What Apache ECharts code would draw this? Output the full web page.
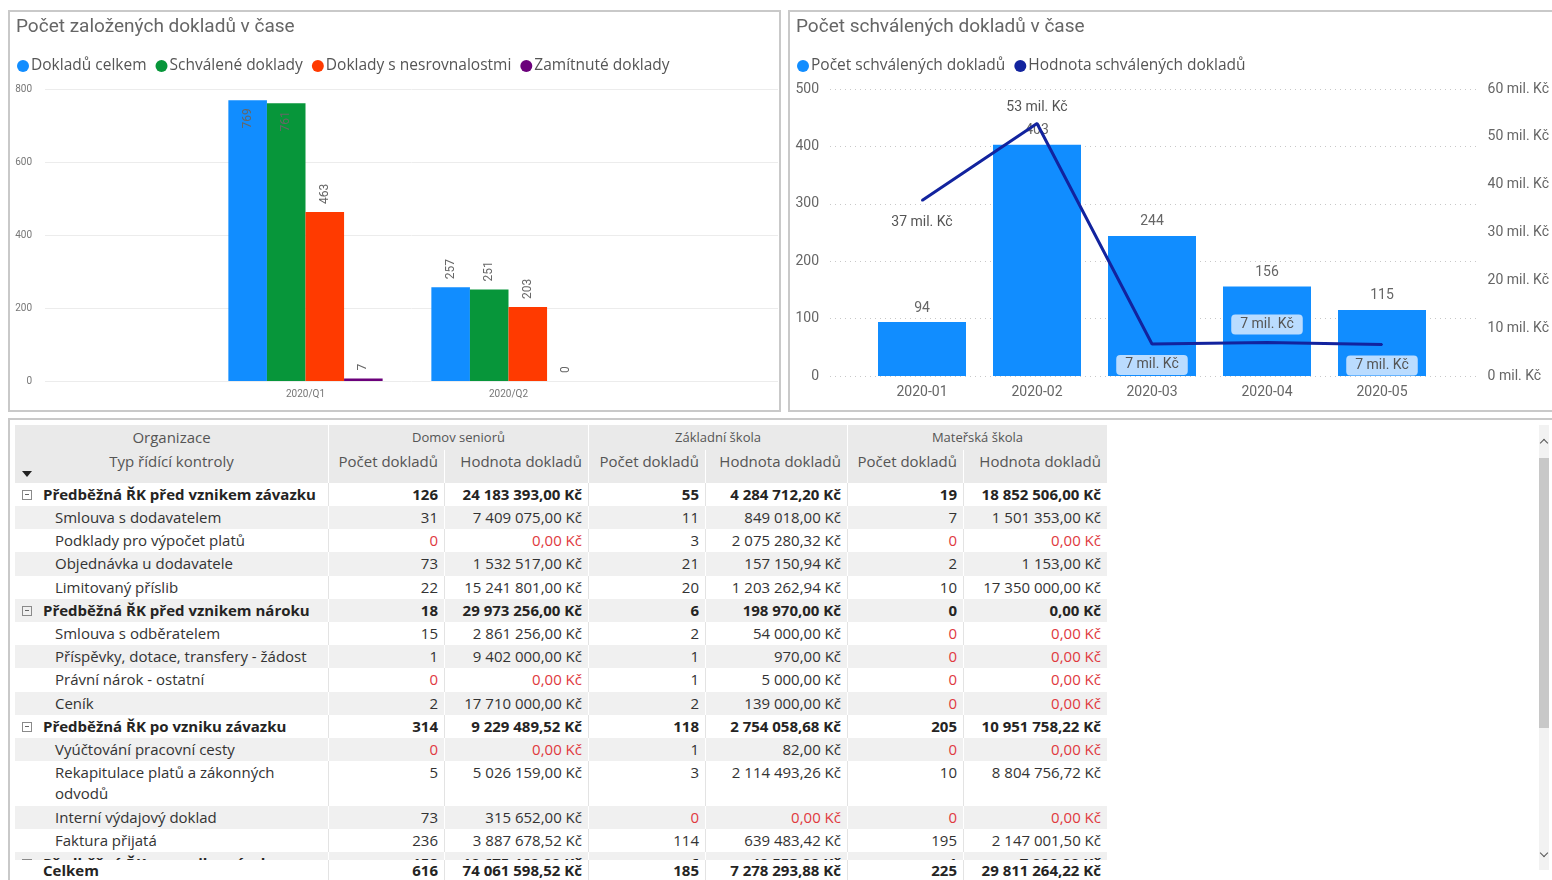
<!DOCTYPE html>
<html><head><meta charset="utf-8">
<script src="https://cdn.jsdelivr.net/npm/echarts@6/dist/echarts.min.js"></script>
<style>
html,body{margin:0;padding:0;background:#fff;width:1552px;height:880px;overflow:hidden;font-family:'Open Sans','Segoe UI',Roboto,sans-serif;}
.panel{position:absolute;border:2px solid #c9c9c9;box-sizing:border-box;}
#chart{position:absolute;left:0;top:0;width:1552px;height:416px;}
.row{position:absolute;left:0;display:flex;width:1092px;}
.cell{box-sizing:border-box;overflow:hidden;white-space:nowrap;font-size:15px;color:#333;}
.num{text-align:right;padding-right:6px;}
.red{color:#e0393e;}
.hdr{background:#eaeaea;}
.grp .cell{font-weight:bold;color:#252423;}
.box{position:absolute;left:7px;width:8px;height:8px;border:1px solid #8a8a8a;}
.box:after{content:'';position:absolute;left:2px;top:3.5px;width:4px;height:1px;background:#666;}
</style></head>
<body>
<div class="panel" style="left:8px;top:10px;width:773px;height:402px;"></div>
<div class="panel" style="left:788px;top:10px;width:780px;height:402px;"></div>
<div class="panel" style="left:8px;top:418px;width:1560px;height:480px;"></div>
<div id="chart"></div>
<div id="table" style="position:absolute;left:15px;top:425px;width:1092px;height:455px;"></div>
<div style="position:absolute;left:1539px;top:425px;width:10px;height:445px;background:#f2f2f2;"></div>
<div style="position:absolute;left:1539px;top:458px;width:10px;height:270px;background:#c8c8c8;"></div>
<div style="position:absolute;left:1541px;top:440px;width:5px;height:5px;border-left:1.5px solid #555;border-top:1.5px solid #555;transform:rotate(45deg);"></div>
<div style="position:absolute;left:1541px;top:850px;width:5px;height:5px;border-right:1.5px solid #555;border-bottom:1.5px solid #555;transform:rotate(45deg);"></div>
<script>
// ---------- chart data ----------
const quarters = ['2020/Q1', '2020/Q2'];
const dokladuCelkem = [769, 257];
const schvaleneDoklady = [761, 251];
const dokladySNesrovnalostmi = [463, 203];
const zamitnuteDoklady = [7, 0];
const leftTicks = [0, 200, 400, 600, 800];

const months = ['2020-01', '2020-02', '2020-03', '2020-04', '2020-05'];
const pocetSchvalenych = [94, 403, 244, 156, 115];
const hodnotaSchvalenych = [36700000, 52800000, 6700000, 7000000, 6600000];
const countTicks = [0, 100, 200, 300, 400, 500];
const valueTicks = [0, 10000000, 20000000, 30000000, 40000000, 50000000, 60000000];

// ---------- table data ----------
const organizace = ['Domov seniorů', 'Základní škola', 'Mateřská škola'];
const rowNames = [
  'Předběžná ŘK před vznikem závazku',
  'Smlouva s dodavatelem',
  'Podklady pro výpočet platů',
  'Objednávka u dodavatele',
  'Limitovaný příslib',
  'Předběžná ŘK před vznikem nároku',
  'Smlouva s odběratelem',
  'Příspěvky, dotace, transfery - žádost',
  'Právní nárok - ostatní',
  'Ceník',
  'Předběžná ŘK po vzniku závazku',
  'Vyúčtování pracovní cesty',
  'Rekapitulace platů a zákonných\nodvodů',
  'Interní výdajový doklad',
  'Faktura přijatá',
  'Předběžná ŘK po vzniku nároku'
];
const rowIsGroup = [1,0,0,0,0,1,0,0,0,0,1,0,0,0,0,1];
const domovCount = [126,31,0,73,22,18,15,1,0,2,314,0,5,73,236,158];
const domovValue = [24183393.00,7409075.00,0,1532517.00,15241801.00,29973256.00,2861256.00,9402000.00,0,17710000.00,9229489.52,0,5026159.00,315652.00,3887678.52,10675460.00];
const zsCount = [55,11,3,21,20,6,2,1,1,2,118,1,3,0,114,6];
const zsValue = [4284712.20,849018.00,2075280.32,157150.94,1203262.94,198970.00,54000.00,970.00,5000.00,139000.00,2754058.68,82.00,2114493.26,0,639483.42,40553.00];
const msCount = [19,7,0,2,10,0,0,0,0,0,205,0,10,0,195,1];
const msValue = [18852506.00,1501353.00,0,1153.00,17350000.00,0,0,0,0,0,10951758.22,0,8804756.72,0,2147001.50,7000.00];
const totalCount = [616, 185, 225];
const totalValue = [74061598.52, 7278293.88, 29811264.22];

// ---------- chart ----------
const FONT = "Roboto, 'Segoe UI', sans-serif";
const LFONT = "'Open Sans', 'Segoe UI', sans-serif";
const chart = echarts.init(document.getElementById('chart'));
const mil = v => Math.round(v / 1e6) + ' mil. Kč';

function rotLabels(arr) {
  return arr.map(v => ({
    value: v,
    label: v > 700
      ? {position: 'insideTop', align: 'right'}
      : {position: 'top', align: 'left'}
  }));
}
const rotLabel = {show: true, rotate: 90, verticalAlign: 'middle', distance: 8, fontSize: 12, color: '#666'};
const barCommon = {type: 'bar', xAxisIndex: 1, yAxisIndex: 1, barGap: '0%', barCategoryGap: '24%', label: rotLabel};

const linePos = ['bottom', 'top', 'bottom', 'top', 'bottom'];
const lineBox = [false, false, true, true, true];
const lineDist = [14, 8, 10, 7, 10];

const option = {
  backgroundColor: 'transparent',
  animation: false,
  textStyle: {fontFamily: FONT},
  title: [
    {text: 'Počet založených dokladů v čase', left: 11, top: 13, textStyle: {fontSize: 19, fontWeight: 'normal', color: '#666', fontFamily: FONT}},
    {text: 'Počet schválených dokladů v čase', left: 791, top: 13, textStyle: {fontSize: 19, fontWeight: 'normal', color: '#666', fontFamily: FONT}}
  ],
  legend: [
    {left: 12, top: 53, icon: 'circle', itemWidth: 12, itemHeight: 12, itemGap: 9,
     data: ['Dokladů celkem', 'Schválené doklady', 'Doklady s nesrovnalostmi', 'Zamítnuté doklady'],
     textStyle: {fontSize: 15.5, color: '#555', fontFamily: LFONT, padding: [0, 0, 0, -3]}},
    {left: 792, top: 53, icon: 'circle', itemWidth: 12, itemHeight: 12, itemGap: 9,
     data: ['Počet schválených dokladů', 'Hodnota schválených dokladů'],
     textStyle: {fontSize: 15.5, color: '#555', fontFamily: LFONT, padding: [0, 0, 0, -3]}}
  ],
  grid: [
    {left: 45, right: 774, top: 89, bottom: 35},
    {left: 204, width: 406, top: 89, bottom: 35},
    {left: 830, right: 74, top: 89, bottom: 40},
    {left: 864.5, width: 575, top: 89, bottom: 40}
  ],
  xAxis: [
    {gridIndex: 0, type: 'category', data: quarters, show: false},
    {gridIndex: 1, type: 'category', data: quarters, axisLine: {show: false}, axisTick: {show: false},
     axisLabel: {fontSize: 10, color: '#777', margin: 8}},
    {gridIndex: 2, type: 'category', data: months, show: false},
    {gridIndex: 3, type: 'category', data: months, axisLine: {show: false}, axisTick: {show: false},
     axisLabel: {fontSize: 14, color: '#666', margin: 9}}
  ],
  yAxis: [
    {gridIndex: 0, type: 'value', min: leftTicks[0], max: leftTicks[leftTicks.length - 1], interval: leftTicks[1] - leftTicks[0],
     axisLabel: {fontSize: 10, color: '#777', margin: 13}, axisLine: {show: false}, axisTick: {show: false},
     splitLine: {lineStyle: {color: '#ececec'}}},
    {gridIndex: 1, type: 'value', min: leftTicks[0], max: leftTicks[leftTicks.length - 1], show: false, splitLine: {show: false}},
    {gridIndex: 2, type: 'value', min: countTicks[0], max: countTicks[countTicks.length - 1], interval: countTicks[1] - countTicks[0],
     axisLabel: {fontSize: 14, color: '#666', margin: 11}, axisLine: {show: false}, axisTick: {show: false},
     splitLine: {lineStyle: {color: '#c8c8c8', type: [1, 4]}}},
    {gridIndex: 2, type: 'value', position: 'right', min: valueTicks[0], max: valueTicks[valueTicks.length - 1], interval: valueTicks[1] - valueTicks[0],
     axisLabel: {fontSize: 14, color: '#666', margin: 10, formatter: v => (v / 1e6) + ' mil. Kč'},
     axisLine: {show: false}, axisTick: {show: false}, splitLine: {show: false}},
    {gridIndex: 3, type: 'value', min: countTicks[0], max: countTicks[countTicks.length - 1], show: false, splitLine: {show: false}},
    {gridIndex: 3, type: 'value', position: 'right', min: valueTicks[0], max: valueTicks[valueTicks.length - 1], show: false, splitLine: {show: false}}
  ],
  series: [
    Object.assign({}, barCommon, {name: 'Dokladů celkem', data: rotLabels(dokladuCelkem), itemStyle: {color: '#118DFF'}}),
    Object.assign({}, barCommon, {name: 'Schválené doklady', data: rotLabels(schvaleneDoklady), itemStyle: {color: '#07963A'}}),
    Object.assign({}, barCommon, {name: 'Doklady s nesrovnalostmi', data: rotLabels(dokladySNesrovnalostmi), itemStyle: {color: '#FF3A00'}}),
    Object.assign({}, barCommon, {name: 'Zamítnuté doklady', data: rotLabels(zamitnuteDoklady), itemStyle: {color: '#6B007B'}}),
    {name: 'Počet schválených dokladů', type: 'bar', xAxisIndex: 3, yAxisIndex: 4, barWidth: 88,
     data: pocetSchvalenych, itemStyle: {color: '#118DFF'},
     label: {show: true, position: 'top', distance: 7, fontSize: 14, color: '#666'}},
    {name: 'Hodnota schválených dokladů', type: 'line', xAxisIndex: 3, yAxisIndex: 5, z: 5,
     symbol: 'circle', symbolSize: 2, itemStyle: {color: '#12239E'}, lineStyle: {width: 3, color: '#12239E'},
     data: hodnotaSchvalenych.map((v, i) => ({
       value: v,
       label: Object.assign({position: linePos[i], distance: lineDist[i]},
         lineBox[i] ? {backgroundColor: 'rgba(205,228,255,0.9)', borderRadius: 4, padding: [3, 9]} : {})
     })),
     label: {show: true, fontSize: 14, color: '#555', formatter: p => mil(p.value)}}
  ]
};
chart.setOption(option);

// ---------- table ----------
const colW = [313, 116, 144, 117, 142, 116, 144];
const sepWhite = 'border-left:1px solid #fff;';
const sepGray = 'border-left:1px solid #e3e3e3;';
function fmtInt(v) { return String(v).replace(/\B(?=(\d{3})+(?!\d))/g, ' '); }
function fmtKc(v) { const p = v.toFixed(2).split('.'); return fmtInt(p[0]) + ',' + p[1] + ' Kč'; }

let html = '';
// header row 1
html += '<div class="row hdr" style="top:0;height:25px;">';
html += '<div class="cell" style="width:' + colW[0] + 'px;text-align:center;line-height:25px;color:#555;">Organizace</div>';
organizace.forEach((o, k) => {
  html += '<div class="cell" style="width:' + (colW[1 + 2 * k] + colW[2 + 2 * k]) + 'px;text-align:center;line-height:25px;font-size:13px;color:#555;' + sepWhite + '">' + o + '</div>';
});
html += '</div>';
// header row 2
html += '<div class="row hdr" style="top:25px;height:33px;">';
html += '<div class="cell" style="width:' + colW[0] + 'px;text-align:center;line-height:22px;color:#555;">Typ řídící kontroly</div>';
for (let k = 0; k < 3; k++) {
  html += '<div class="cell num" style="width:' + colW[1 + 2 * k] + 'px;line-height:22px;color:#555;' + sepWhite + '">Počet dokladů</div>';
  html += '<div class="cell num" style="width:' + colW[2 + 2 * k] + 'px;line-height:22px;color:#555;' + sepWhite + '">Hodnota dokladů</div>';
}
html += '</div>';
html += '<div style="position:absolute;left:7px;top:46px;width:0;height:0;border-left:5px solid transparent;border-right:5px solid transparent;border-top:6px solid #222;"></div>';

// body
const counts = [domovCount, zsCount, msCount];
const values = [domovValue, zsValue, msValue];
html += '<div style="position:absolute;left:0;top:57.8px;width:1092px;height:377.2px;overflow:hidden;">';
let y = 0;
rowNames.forEach((name, i) => {
  const lines = name.split('\n').length;
  const h = lines > 1 ? 44.4 : 23.2;
  const gray = i % 2 === 1;
  const sep = gray ? sepWhite : sepGray;
  const grp = rowIsGroup[i] === 1;
  html += '<div class="row' + (grp ? ' grp' : '') + '" style="top:' + y + 'px;height:' + h + 'px;background:' + (gray ? '#f0f0f0' : '#fff') + ';">';
  html += '<div class="cell" style="position:relative;width:' + colW[0] + 'px;padding-left:' + (grp ? 28 : 40) + 'px;line-height:' + (lines > 1 ? 21 : 22) + 'px;white-space:pre-line;padding-top:' + (lines > 1 ? 1 : 0) + 'px;">' +
    (grp ? '<span class="box" style="top:7px;"></span>' : '') + name + '</div>';
  for (let k = 0; k < 3; k++) {
    const c = counts[k][i], v = values[k][i];
    const red = (!grp && c === 0) ? ' red' : '';
    html += '<div class="cell num' + red + '" style="width:' + colW[1 + 2 * k] + 'px;line-height:22px;' + sep + '">' + fmtInt(c) + '</div>';
    html += '<div class="cell num' + (!grp && v === 0 ? ' red' : '') + '" style="width:' + colW[2 + 2 * k] + 'px;line-height:22px;' + sep + '">' + fmtKc(v) + '</div>';
  }
  html += '</div>';
  y += h;
});
html += '</div>';
// total row
html += '<div class="row grp" style="top:435px;height:20px;background:#fff;">';
html += '<div class="cell" style="width:' + colW[0] + 'px;padding-left:28px;line-height:20px;">Celkem</div>';
for (let k = 0; k < 3; k++) {
  html += '<div class="cell num" style="width:' + colW[1 + 2 * k] + 'px;line-height:20px;' + sepGray + '">' + fmtInt(totalCount[k]) + '</div>';
  html += '<div class="cell num" style="width:' + colW[2 + 2 * k] + 'px;line-height:20px;' + sepGray + '">' + fmtKc(totalValue[k]) + '</div>';
}
html += '</div>';
document.getElementById('table').innerHTML = html;
</script>
</body></html>
